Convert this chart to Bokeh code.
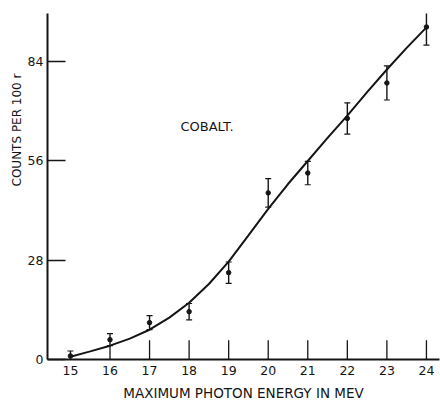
import numpy as np
from bokeh.plotting import figure
from bokeh.models import (ColumnDataSource, Range1d, FixedTicker, Whisker, TeeHead, Title)
from bokeh.core.properties import value
from bokeh.embed import file_html
from bokeh.resources import INLINE

# Measured data points (MeV, counts per 100 r) with error half-widths
energy = [15, 16, 17, 18, 19, 20, 21, 22, 23, 24]
counts = [1.0, 5.6, 10.4, 13.5, 24.5, 47.0, 52.6, 68.0, 78.0, 93.8]
errors = [1.4, 1.7, 2.0, 2.3, 3.0, 4.0, 3.3, 4.4, 4.8, 5.1]

# Smooth fitted curve
curve_x = [15, 15.5, 16, 16.5, 17, 17.5, 18, 18.5, 19, 19.5, 20, 20.5, 21, 21.5, 22, 22.5, 23, 23.5, 24]
curve_y = [0.8, 2.3, 3.9, 5.9, 8.4, 11.8, 16.0, 21.3, 27.6, 35.0, 42.5, 49.5, 56.0, 62.5, 68.8, 75.4, 81.8, 87.9, 93.7]

x_ticks = [15, 16, 17, 18, 19, 20, 21, 22, 23, 24]
y_ticks = [0, 28, 56, 84]

INK = "#151515"
FONT = "DejaVu Sans"

p = figure(width=440, height=403, output_backend="svg", toolbar_location=None,
           x_range=Range1d(14.42, 24.33), y_range=Range1d(0, 97.6),
           min_border_left=47, min_border_right=1, min_border_top=13, min_border_bottom=43)
p.outline_line_color = None
p.grid.visible = False
p.background_fill_color = "white"
p.border_fill_color = "white"

# axes
p.xaxis.ticker = FixedTicker(ticks=x_ticks)
p.yaxis.ticker = FixedTicker(ticks=y_ticks)
for ax in (p.xaxis[0], p.yaxis[0]):
    ax.axis_line_color = INK
    ax.axis_line_width = 2
    ax.major_tick_line_color = INK
    ax.major_tick_line_width = 1.3
    ax.major_tick_out = 0
    ax.minor_tick_line_color = None
    ax.major_label_text_font = FONT
    ax.major_label_text_font_size = "12.5px"
    ax.major_label_text_color = INK
p.xaxis.major_tick_in = 0
p.yaxis.major_tick_in = 18
p.xaxis.major_label_standoff = 6
p.yaxis.major_label_standoff = 4
p.yaxis.major_label_orientation = "horizontal"
p.xaxis.axis_label = "MAXIMUM PHOTON ENERGY IN MEV"
p.xaxis.axis_label_text_font = FONT
p.xaxis.axis_label_text_font_size = "13.5px"
p.xaxis.axis_label_text_font_style = "normal"
p.xaxis.axis_label_text_color = INK
p.xaxis.axis_label_standoff = 7

# upward x tick marks, stopping at the curve where the curve is lower
tick_top = np.minimum(5.4, np.interp(x_ticks, curve_x, curve_y))
p.segment(x0=x_ticks, y0=[0] * len(x_ticks), x1=x_ticks, y1=tick_top,
          line_color=INK, line_width=1.3)

# curve
p.line(curve_x, curve_y, line_color=INK, line_width=2)

# error bars and points
src = ColumnDataSource(dict(x=energy, y=counts,
                            upper=[c + e for c, e in zip(counts, errors)],
                            lower=[c - e for c, e in zip(counts, errors)]))
p.add_layout(Whisker(source=src, base="x", upper="upper", lower="lower",
                     line_color=INK, line_width=1.4,
                     upper_head=TeeHead(size=6, line_color=INK, line_width=1.2),
                     lower_head=TeeHead(size=6, line_color=INK, line_width=1.2)))
p.scatter("x", "y", source=src, size=4.5, color=INK)

# labels
p.text(x=[17.78], y=[65.8], text=["COBALT."], text_font=value(FONT),
       text_font_size="13px", text_color=INK, text_baseline="middle", text_align="left")
p.add_layout(Title(text="COUNTS PER 100 r", align="right", offset=60, standoff=2,
                   text_font=FONT, text_font_size="12px", text_font_style="normal",
                   text_color=INK), "left")

open("out.html", "w").write(file_html(p, INLINE))
